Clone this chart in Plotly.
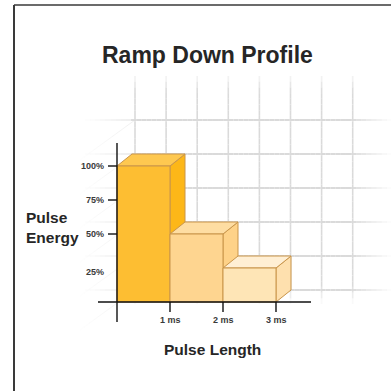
import plotly.graph_objects as go

# ---- data ----
pulse_ms = [0, 1, 2, 3]                 # bar edges along pulse length (ms)
energy_pct = [100, 50, 25]              # energy level of each 1 ms step
y_ticks = [25, 50, 75, 100]
y_tick_labels = ["25%", "50%", "75%", "100%"]
x_ticks = [1, 2, 3]
x_tick_labels = ["1 ms", "2 ms", "3 ms"]

# ---- styling ----
W = H = 391
ORIGIN_PX = (117, 302)          # pixel position of (0 ms, 0 %)
PX_PER_MS = 53.0
PX_PER_PCT = 1.36
DEPTH_PX = (15, 12)             # oblique depth offset of the 3D boxes

face_colors = [
    dict(front="#FDBE32", top="#FEC850", side="#FDB718"),
    dict(front="#FED590", top="#FEDDA2", side="#FED288"),
    dict(front="#FEE5B6", top="#FFEFD4", side="#FEE0AE"),
]
EDGE = "#C9954A"
GRID = "#DADADA"
TEXT = "#262626"
TICK_TEXT = "#3a3a3a"
FONT = "Liberation Sans"

# axis ranges so that the whole page is the plotting area
x_range = [-ORIGIN_PX[0] / PX_PER_MS, (W - ORIGIN_PX[0]) / PX_PER_MS]
y_range = [-(H - ORIGIN_PX[1]) / PX_PER_PCT, ORIGIN_PX[1] / PX_PER_PCT]
dx = DEPTH_PX[0] / PX_PER_MS
dy = DEPTH_PX[1] / PX_PER_PCT


def px(xp, yp):
    """pixel (from top-left) -> paper coordinates"""
    return xp / W, 1 - yp / H


fig = go.Figure()
shapes = []


def faded_line(x0, y0, x1, y1, stops, width, color=GRID, n=40):
    """line drawn as short pieces whose opacity follows (t, alpha) stops"""
    def alpha_at(t):
        for (ta, aa), (tb, ab) in zip(stops, stops[1:]):
            if ta <= t <= tb:
                return aa + (ab - aa) * (t - ta) / (tb - ta if tb > ta else 1)
        return stops[-1][1]
    for i in range(n):
        ta, tb = i / n, (i + 1) / n
        a = alpha_at((ta + tb) / 2)
        if a <= 0.01:
            continue
        xa, ya = px(x0 + (x1 - x0) * ta, y0 + (y1 - y0) * ta)
        xb, yb = px(x0 + (x1 - x0) * tb, y0 + (y1 - y0) * tb)
        shapes.append(dict(type="line", xref="paper", yref="paper",
                           x0=xa, y0=ya, x1=xb, y1=yb, layer="below",
                           opacity=a, line=dict(color=color, width=width)))


# back wall grid: horizontal lines follow the energy ticks pushed back by the depth
grid_levels = [0, 25, 50, 75, 100, 125]
for lv in grid_levels:
    yp = ORIGIN_PX[1] - lv * PX_PER_PCT - DEPTH_PX[1]
    faded_line(85, yp, 392, yp,
               [(0, 0.0), (0.15, 0.45), (0.16, 1.0), (0.86, 1.0), (1.0, 0.0)],
               2.0, n=60)
    # side-wall diagonals running toward the viewer
    faded_line(135, yp, 80, yp + 40,
               [(0, 0.5), (1.0, 0.0)], 0.8, n=12)

# back wall grid: vertical lines
for k in range(8):
    xp = 135 + 31.1 * k
    faded_line(xp, 76, xp, 304,
               [(0, 0.2), (0.07, 1.0), (0.92, 1.0), (1.0, 0.0)],
               1.6, n=40)

# ---- 3D boxes ----
for i, v in enumerate(energy_pct):
    x0, x1 = pulse_ms[i], pulse_ms[i + 1]
    c = face_colors[i]
    polys = [
        ("side", [x1, x1, x1 + dx, x1 + dx, x1], [0, v, v + dy, dy, 0]),
        ("top", [x0, x1, x1 + dx, x0 + dx, x0], [v, v, v + dy, v + dy, v]),
        ("front", [x0, x1, x1, x0, x0], [0, 0, v, v, 0]),
    ]
    for face, xs, ys in polys:
        fig.add_trace(go.Scatter(
            x=xs, y=ys, mode="lines", fill="toself", fillcolor=c[face],
            line=dict(color=EDGE, width=1), hoverinfo="skip", showlegend=False))

# ---- axes as lines with ticks ----
AX = dict(color="#111111", width=1.4)
shapes.append(dict(type="line", xref="x", yref="y", x0=0, x1=0,
                   y0=-20 / PX_PER_PCT, y1=159 / PX_PER_PCT, line=AX))
shapes.append(dict(type="line", xref="x", yref="y", x0=-19 / PX_PER_MS,
                   x1=194 / PX_PER_MS, y0=0, y1=0, line=AX))
for t in y_ticks:
    if t == 25:
        continue
    shapes.append(dict(type="line", xref="x", yref="y", x0=-9 / PX_PER_MS,
                       x1=0, y0=t, y1=t, line=AX))
for t in x_ticks:
    shapes.append(dict(type="line", xref="x", yref="y", x0=t, x1=t,
                       y0=0, y1=-10 / PX_PER_PCT, line=AX))

# frame
shapes.append(dict(type="line", xref="paper", yref="paper",
                   x0=14 / W, x1=1.01, y0=1 - 5 / H, y1=1 - 5 / H,
                   line=dict(color="#3a3a3a", width=1.6)))
shapes.append(dict(type="line", xref="paper", yref="paper",
                   x0=14 / W, x1=14 / W, y0=-0.01, y1=1 - 5 / H,
                   line=dict(color="#3a3a3a", width=2)))

annotations = []
for t, lab in zip(y_ticks, y_tick_labels):
    annotations.append(dict(x=-11 / PX_PER_MS, y=t + (-3 if t == 25 else 0),
                            xref="x", yref="y", text=f"<b>{lab}</b>",
                            xanchor="right", yanchor="middle", showarrow=False,
                            font=dict(size=9, color=TICK_TEXT, family=FONT)))
for t, lab in zip(x_ticks, x_tick_labels):
    annotations.append(dict(x=t, y=-18 / PX_PER_PCT, xref="x", yref="y",
                            text=f"<b>{lab}</b>", xanchor="center",
                            yanchor="middle", showarrow=False,
                            font=dict(size=9, color=TICK_TEXT, family=FONT)))

tx, ty = px(207, 55)
annotations.append(dict(x=tx, y=ty, xref="paper", yref="paper",
                        text="<b>Ramp Down Profile</b>", showarrow=False,
                        xanchor="center", yanchor="middle",
                        font=dict(size=23, color=TEXT, family=FONT)))
lx, ly = px(24, 227)
annotations.append(dict(x=lx, y=ly, xref="paper", yref="paper",
                        text="<b>Pulse<br>Energy</b>", showarrow=False,
                        xanchor="left", yanchor="middle", align="left",
                        font=dict(size=15.5, color=TEXT, family=FONT)))
bx, by = px(212, 349)
annotations.append(dict(x=bx, y=by, xref="paper", yref="paper",
                        text="<b>Pulse Length</b>", showarrow=False,
                        xanchor="center", yanchor="middle",
                        font=dict(size=15.5, color=TEXT, family=FONT)))

fig.update_layout(
    width=W, height=H, autosize=False,
    margin=dict(l=0, r=0, t=0, b=0),
    paper_bgcolor="white", plot_bgcolor="white",
    xaxis=dict(range=x_range, visible=False, fixedrange=True),
    yaxis=dict(range=y_range, visible=False, fixedrange=True),
    shapes=shapes, annotations=annotations, showlegend=False,
)

fig.write_html("out.html", config=dict(displayModeBar=False))
